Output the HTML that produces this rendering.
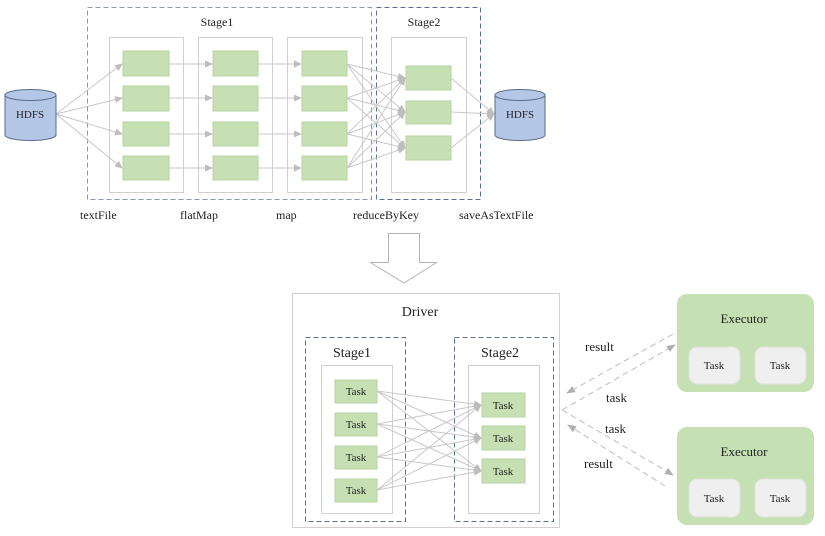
<!DOCTYPE html>
<html><head><meta charset="utf-8"><style>html,body{margin:0;padding:0;background:#fff}svg{display:block}text{font-family:"Liberation Serif",serif;fill:#222}</style></head><body>
<svg width="825" height="536" viewBox="0 0 825 536" xmlns="http://www.w3.org/2000/svg">
<defs>
<marker id="a" markerWidth="8" markerHeight="8" refX="7" refY="4" orient="auto" markerUnits="userSpaceOnUse"><path d="M0,0.5 L8,4 L0,7.5z" fill="#bdbdbd"/></marker>
<marker id="b" markerWidth="9" markerHeight="9" refX="8" refY="4.5" orient="auto" markerUnits="userSpaceOnUse"><path d="M0,1 L9,4.5 L0,8z" fill="#b0b0b0"/></marker>
</defs>
<!-- top -->
<rect x="87.5" y="7.5" width="284" height="192" fill="none" stroke="#8a93b8" stroke-dasharray="5,3"/>
<rect x="376.5" y="7.5" width="104" height="192" fill="none" stroke="#5a6f96" stroke-dasharray="5,3"/>
<text x="217" y="26" font-size="12" text-anchor="middle">Stage1</text>
<text x="424" y="26" font-size="12" text-anchor="middle">Stage2</text>
<g fill="none" stroke="#d0d0d0"><rect x="109.5" y="37.5" width="74" height="155"/><rect x="198.5" y="37.5" width="74" height="155"/><rect x="287.5" y="37.5" width="75" height="155"/><rect x="391.5" y="37.5" width="75" height="155"/></g>
<g fill="#c6e0b4" stroke="#b5d3a1"><rect x="123" y="51" width="46" height="25"/><rect x="123" y="86" width="46" height="25"/><rect x="123" y="122" width="46" height="24"/><rect x="123" y="156" width="46" height="24"/>
<rect x="213" y="51" width="45" height="25"/><rect x="213" y="86" width="45" height="25"/><rect x="213" y="122" width="45" height="24"/><rect x="213" y="156" width="45" height="24"/>
<rect x="302" y="51" width="45" height="25"/><rect x="302" y="86" width="45" height="25"/><rect x="302" y="122" width="45" height="24"/><rect x="302" y="156" width="45" height="24"/>
<rect x="406" y="66" width="45" height="24"/><rect x="406" y="101" width="45" height="23"/><rect x="406" y="136" width="45" height="24"/></g>
<g stroke="#c8c8c8" stroke-width="1" marker-end="url(#a)" fill="none">
<line x1="56" y1="114" x2="122" y2="64"/><line x1="56" y1="114" x2="122" y2="98"/><line x1="56" y1="114" x2="122" y2="134"/><line x1="56" y1="114" x2="122" y2="168"/>
<line x1="169" y1="64" x2="212" y2="64"/><line x1="169" y1="98" x2="212" y2="98"/><line x1="169" y1="134" x2="212" y2="134"/><line x1="169" y1="168" x2="212" y2="168"/>
<line x1="258" y1="64" x2="301" y2="64"/><line x1="258" y1="98" x2="301" y2="98"/><line x1="258" y1="134" x2="301" y2="134"/><line x1="258" y1="168" x2="301" y2="168"/>
<line x1="347" y1="64" x2="405" y2="78"/><line x1="347" y1="64" x2="405" y2="112"/><line x1="347" y1="64" x2="405" y2="148"/>
<line x1="347" y1="98" x2="405" y2="78"/><line x1="347" y1="98" x2="405" y2="112"/><line x1="347" y1="98" x2="405" y2="148"/>
<line x1="347" y1="134" x2="405" y2="78"/><line x1="347" y1="134" x2="405" y2="112"/><line x1="347" y1="134" x2="405" y2="148"/>
<line x1="347" y1="168" x2="405" y2="78"/><line x1="347" y1="168" x2="405" y2="112"/><line x1="347" y1="168" x2="405" y2="148"/>
<line x1="451" y1="78" x2="494" y2="114"/><line x1="451" y1="112" x2="494" y2="114"/><line x1="451" y1="148" x2="494" y2="114"/>
</g>
<g fill="#b4c7e7" stroke="#5a6b8c">
<path d="M5,95 v40 a25.5,5.5 0 0 0 51,0 v-40"/><ellipse cx="30.5" cy="95" rx="25.5" ry="5.5"/>
<path d="M495,95 v40 a25,5.5 0 0 0 50,0 v-40"/><ellipse cx="520" cy="95" rx="25" ry="5.5"/>
</g>
<text x="30" y="118" font-size="11" text-anchor="middle">HDFS</text>
<text x="520" y="118" font-size="11" text-anchor="middle">HDFS</text>
<g font-size="12"><text x="80" y="219">textFile</text><text x="180" y="219">flatMap</text><text x="276" y="219">map</text><text x="353" y="219">reduceByKey</text><text x="459" y="219">saveAsTextFile</text></g>
<path d="M388.5,233.5 H419.5 V262.5 H436.5 L404,283 L370.5,262.5 H388.5 Z" fill="#fff" stroke="#b5b5b5"/>
<!-- bottom -->
<rect x="292.5" y="293.5" width="267" height="234" fill="#fff" stroke="#d0d0d0"/>
<text x="420" y="316" font-size="14" text-anchor="middle">Driver</text>
<rect x="305.5" y="337.5" width="100" height="184" fill="none" stroke="#5a6f96" stroke-dasharray="5,3"/>
<rect x="454.5" y="337.5" width="99" height="184" fill="none" stroke="#5a6f96" stroke-dasharray="5,3"/>
<text x="352" y="357" font-size="14" text-anchor="middle">Stage1</text>
<text x="500" y="357" font-size="14" text-anchor="middle">Stage2</text>
<rect x="321.5" y="365.5" width="71" height="148" fill="none" stroke="#d0d0d0"/>
<rect x="468.5" y="365.5" width="71" height="148" fill="none" stroke="#d0d0d0"/>
<g fill="#c6e0b4" stroke="#b5d3a1"><rect x="335" y="380" width="42" height="23"/><rect x="335" y="413" width="42" height="23"/><rect x="335" y="446" width="42" height="23"/><rect x="335" y="479" width="42" height="23"/>
<rect x="482" y="393" width="43" height="24"/><rect x="482" y="426" width="43" height="24"/><rect x="482" y="459" width="43" height="24"/></g>
<g stroke="#c8c8c8" marker-end="url(#a)">
<line x1="377" y1="391" x2="481" y2="405"/><line x1="377" y1="391" x2="481" y2="438"/><line x1="377" y1="391" x2="481" y2="471"/>
<line x1="377" y1="424" x2="481" y2="405"/><line x1="377" y1="424" x2="481" y2="438"/><line x1="377" y1="424" x2="481" y2="471"/>
<line x1="377" y1="457" x2="481" y2="405"/><line x1="377" y1="457" x2="481" y2="438"/><line x1="377" y1="457" x2="481" y2="471"/>
<line x1="377" y1="490" x2="481" y2="405"/><line x1="377" y1="490" x2="481" y2="438"/><line x1="377" y1="490" x2="481" y2="471"/>
</g>
<g font-size="11" text-anchor="middle"><text x="356" y="395">Task</text><text x="356" y="428">Task</text><text x="356" y="461">Task</text><text x="356" y="494">Task</text>
<text x="503" y="409">Task</text><text x="503" y="442">Task</text><text x="503" y="475">Task</text></g>
<rect x="677" y="294" width="137" height="98" rx="10" fill="#c5e0b3"/>
<rect x="677" y="427" width="137" height="98" rx="10" fill="#c5e0b3"/>
<g fill="#efefef" stroke="#e0e0e0"><rect x="689" y="347" width="51" height="37" rx="8"/><rect x="755" y="347" width="51" height="37" rx="8"/><rect x="689" y="479" width="51" height="38" rx="8"/><rect x="755" y="479" width="51" height="38" rx="8"/></g>
<g font-size="13" text-anchor="middle"><text x="744" y="323">Executor</text><text x="744" y="456">Executor</text></g>
<g font-size="11" text-anchor="middle"><text x="714" y="369">Task</text><text x="780" y="369">Task</text><text x="714" y="502">Task</text><text x="780" y="502">Task</text></g>
<g stroke="#bdbdbd" stroke-dasharray="6,4" fill="none" marker-end="url(#b)">
<line x1="673" y1="334" x2="567" y2="393"/><line x1="562" y1="410" x2="675" y2="345"/>
<line x1="562" y1="410" x2="673" y2="475"/><line x1="665" y1="486" x2="568" y2="425"/>
</g>
<g font-size="13"><text x="585" y="351">result</text><text x="606" y="402">task</text><text x="605" y="433">task</text><text x="584" y="468">result</text></g>
</svg>
</body></html>
